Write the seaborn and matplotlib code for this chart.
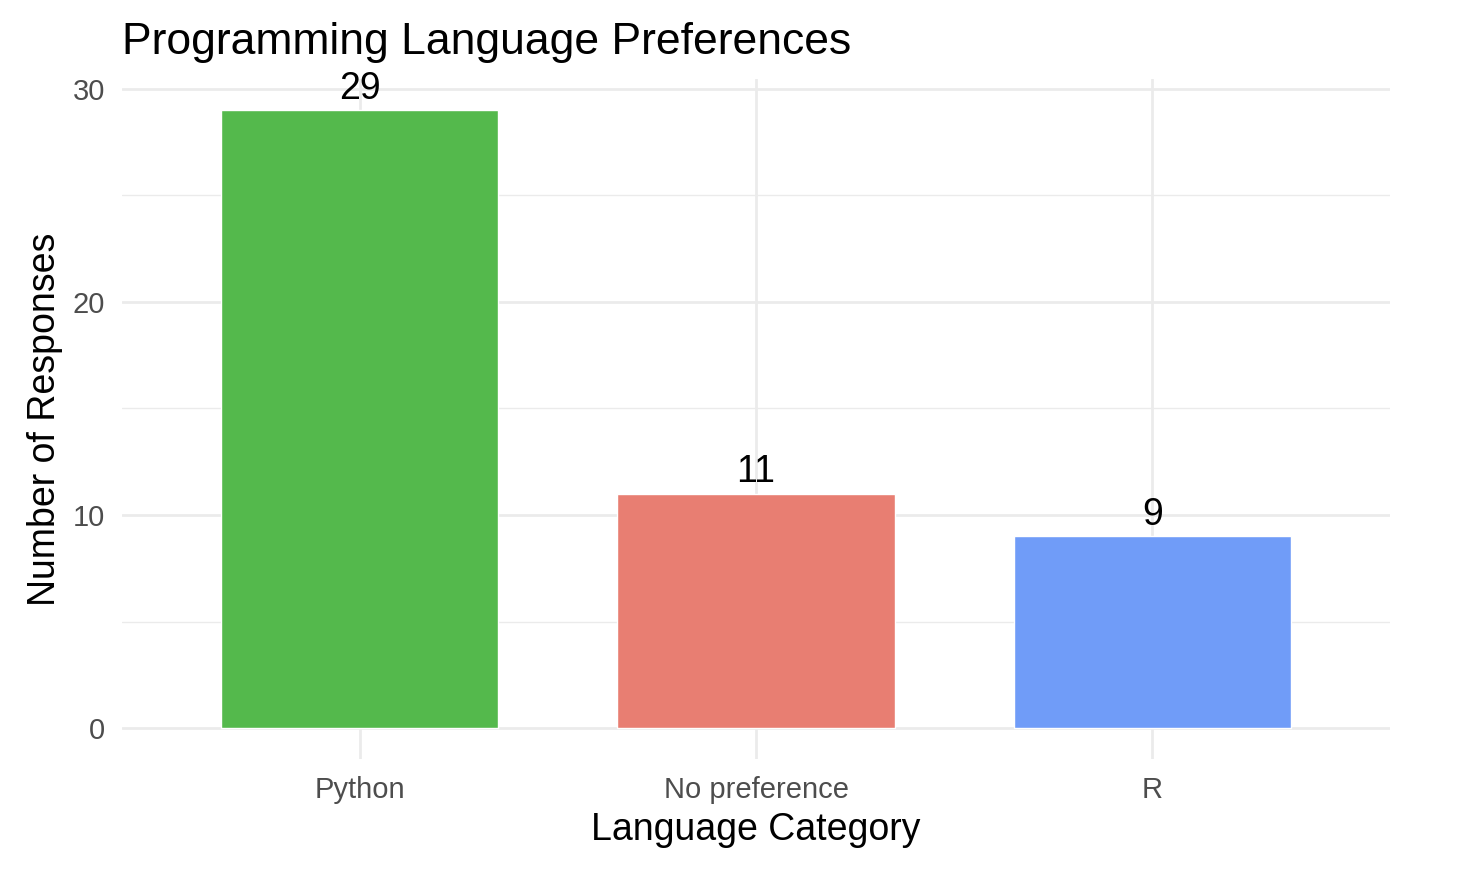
import matplotlib
matplotlib.use("Agg")
import matplotlib.pyplot as plt
import seaborn as sns
import pandas as pd
from matplotlib.ticker import MultipleLocator

# Survey counts per language category
categories = ["Python", "No preference", "R"]
responses = [29, 11, 9]
bar_colors = ["#54B94C", "#E87E72", "#709CF8"]

df = pd.DataFrame({"category": categories, "responses": responses})

sns.set_theme(style="white")
plt.rcParams["font.family"] = ["Liberation Sans", "DejaVu Sans"]

fig = plt.figure(figsize=(14.8, 8.86), dpi=100)
ax = fig.add_axes([122 / 1480, 1 - 759 / 886, (1390 - 122) / 1480, (759 - 79) / 886])

sns.barplot(
    data=df, x="category", y="responses", hue="category",
    palette=bar_colors, width=0.7, saturation=1, legend=False, ax=ax, zorder=3,
)

for i, v in enumerate(responses):
    ax.annotate(str(v), (i, v), xytext=(0, 8), textcoords="offset points",
                ha="center", va="baseline", fontsize=27, color="black", zorder=4)

ax.set_xlim(-0.6, 2.6)
ax.set_ylim(-1.45, 30.45)
ax.yaxis.set_major_locator(MultipleLocator(10))
ax.yaxis.set_minor_locator(MultipleLocator(5))

ax.grid(which="major", axis="both", color="#EBEBEB", linewidth=2.0, zorder=0)
ax.grid(which="minor", axis="y", color="#EBEBEB", linewidth=1.0, zorder=0)
ax.set_axisbelow(True)
for s in ax.spines.values():
    s.set_visible(False)

ax.tick_params(axis="both", which="both", length=0, labelsize=21, labelcolor="#4D4D4D")
ax.tick_params(axis="y", pad=12)
ax.tick_params(axis="x", pad=12)

ax.set_xlabel("Language Category", fontsize=27, color="black", labelpad=6)
ax.set_ylabel("Number of Responses", fontsize=27, color="black", labelpad=7)
ax.set_title("Programming Language Preferences", fontsize=32, loc="left", pad=18, color="black")

fig.savefig("out.png", dpi=100)
